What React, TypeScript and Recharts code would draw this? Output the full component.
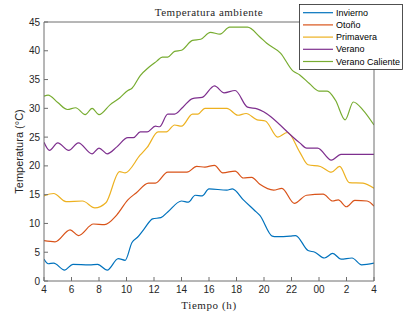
import React from 'react';
import { LineChart, Line, XAxis, YAxis } from 'recharts';

const hourTicks = [4, 6, 8, 10, 12, 14, 16, 18, 20, 22, 24, 26, 28];
const tempTicks = [0, 5, 10, 15, 20, 25, 30, 35, 40, 45];

const inviernoHours = [4, 4.3, 4.7, 5.5, 6.1, 7.3, 7.9, 8.6, 9.4, 9.9, 10.4, 10.8, 11.3, 11.9, 12.5, 13.0, 14.0, 14.5, 15.0, 15.5, 16.0, 17.3, 17.7, 18.5, 19.3, 19.7, 20.6, 20.9, 21.9, 22.3, 23.2, 23.7, 24.4, 25.0, 25.6, 26.4, 27.1, 28];
const inviernoTemps = [3.8, 3.0, 3.1, 1.9, 2.9, 2.8, 2.9, 1.9, 3.9, 3.6, 6.7, 7.6, 9.1, 10.8, 11.0, 12.0, 13.9, 13.7, 14.9, 14.8, 16.0, 15.8, 16.0, 14.1, 12.3, 11.4, 7.8, 7.7, 7.8, 7.9, 5.3, 5.0, 4.0, 4.8, 3.8, 4.0, 2.8, 3.1];

const otonoHours = [4, 4.8, 5.9, 6.5, 7.6, 8.4, 9.3, 10.1, 10.7, 11.6, 12.1, 13.0, 14.4, 15.1, 15.7, 16.4, 17.0, 17.9, 18.5, 19.1, 19.7, 20.7, 21.3, 22.2, 23.1, 24.3, 25.0, 25.4, 26.0, 26.6, 27.5, 28];
const otonoTemps = [7.0, 6.8, 8.9, 7.9, 9.9, 9.8, 11.5, 14.1, 15.3, 17.0, 17.0, 18.9, 18.9, 19.9, 19.8, 20.1, 18.8, 19.1, 17.9, 18.0, 16.8, 15.8, 16.1, 13.5, 14.9, 15.1, 13.9, 14.1, 12.9, 14.0, 13.9, 13.0];

const primaveraHours = [4, 4.7, 5.6, 6.8, 7.7, 8.5, 9.5, 9.9, 11.0, 11.5, 12.3, 12.9, 13.5, 14.0, 14.8, 15.2, 15.7, 17.3, 18.1, 18.7, 19.5, 20.1, 21.0, 21.7, 22.6, 23.2, 24.1, 24.9, 25.5, 26.2, 27.2, 28];
const primaveraTemps = [14.8, 15.2, 13.8, 13.9, 12.7, 13.6, 19.0, 18.8, 21.9, 23.2, 25.9, 25.9, 27.1, 26.9, 29.0, 29.0, 30.0, 30.0, 28.8, 29.1, 28.0, 27.8, 25.0, 25.8, 22.4, 20.2, 19.9, 18.9, 19.9, 17.1, 17.0, 16.1];

const veranoHours = [4, 4.4, 5.0, 5.8, 6.5, 7.5, 8.0, 8.6, 9.3, 10.1, 10.5, 11.0, 11.5, 12.1, 12.4, 13.0, 13.5, 14.1, 14.8, 15.5, 16.4, 17.1, 17.9, 18.8, 19.5, 22.6, 23.1, 23.9, 24.9, 25.6, 28];
const veranoTemps = [24.1, 22.7, 24.0, 22.7, 24.0, 22.1, 23.1, 22.1, 23.3, 24.9, 24.9, 25.9, 25.9, 26.9, 26.8, 29.0, 29.0, 30.2, 31.7, 31.9, 33.9, 32.7, 33.1, 30.2, 29.9, 24.0, 23.1, 23.1, 21.0, 22.0, 22.0];

const calienteHours = [4, 4.3, 5.0, 5.7, 6.3, 7.0, 7.5, 8.0, 8.8, 9.5, 10.1, 10.4, 11.0, 11.6, 12.2, 12.6, 13.0, 13.5, 14.0, 14.8, 15.4, 16.1, 16.8, 17.5, 18.8, 19.7, 20.2, 21.2, 22.1, 22.6, 23.3, 24.0, 24.6, 25.2, 25.9, 26.5, 27.2, 28];
const calienteTemps = [32.1, 32.3, 31.0, 29.8, 30.1, 28.9, 30.0, 28.9, 30.6, 31.8, 33.1, 33.5, 35.7, 37.1, 38.2, 38.9, 38.9, 39.9, 40.1, 41.8, 42.0, 43.2, 42.9, 44.1, 44.1, 42.4, 41.3, 39.6, 36.5, 35.8, 34.3, 33.0, 33.0, 31.4, 28.0, 31.1, 29.7, 27.1];

const series = [
  { name: 'Invierno', color: '#0072BD', hours: inviernoHours, temps: inviernoTemps },
  { name: 'Otoño', color: '#D95319', hours: otonoHours, temps: otonoTemps },
  { name: 'Primavera', color: '#EDB120', hours: primaveraHours, temps: primaveraTemps },
  { name: 'Verano', color: '#7E2F8E', hours: veranoHours, temps: veranoTemps },
  { name: 'Verano Caliente', color: '#77AC30', hours: calienteHours, temps: calienteTemps },
];

const toPoints = (hours: number[], temps: number[]) =>
  hours.map((h, i) => ({ hora: h, temp: temps[i] }));

const fmtHour = (v: number) => (v === 24 ? '00' : String(v > 24 ? v - 24 : v));

const axisColor = '#6e6e6e';
const textColor = '#262626';
const sans = '"Liberation Sans", Arial, sans-serif';
const serif = '"Liberation Serif", "Times New Roman", serif';

// legend box drawn on top of the chart, MATLAB style
const LegendBox = () => (
  <svg width={105} height={66} style={{ position: 'absolute', left: 299, top: 4 }}>
    <rect x={0.5} y={0.5} width={103} height={65} fill="#fff" stroke={textColor} strokeWidth={0.8} />
    {series.map((s, i) => (
      <g key={s.name}>
        <line x1={4} x2={34} y1={8.7 + i * 12.2} y2={8.7 + i * 12.2} stroke={s.color} strokeWidth={1.2} />
        <text x={37} y={8.7 + i * 12.2} dy="0.35em" fontSize={9} fontFamily={sans} fill="#000">
          {s.name}
        </text>
      </g>
    ))}
  </svg>
);

export default function App() {
  const tick = { fill: textColor, fontSize: 10, fontFamily: sans };
  return (
    <div style={{ position: 'absolute', left: 0, top: 0, width: 405, height: 315, background: '#fff' }}>
      <LineChart width={405} height={315} margin={{ top: 21, right: 30, left: 0, bottom: 0 }}>
        <XAxis
          type="number"
          dataKey="hora"
          domain={[4, 28]}
          ticks={hourTicks}
          tickFormatter={fmtHour}
          interval={0}
          height={34}
          tickSize={-4}
          tickMargin={9}
          tick={tick}
          stroke={axisColor}
          allowDataOverflow
          label={{ value: 'Tiempo (h)', position: 'insideBottom', offset: 6, fill: textColor, fontSize: 11, fontFamily: serif, letterSpacing: 0.6 }}
        />
        <XAxis
          xAxisId="top"
          orientation="top"
          type="number"
          domain={[4, 28]}
          ticks={hourTicks}
          interval={0}
          height={1}
          tickSize={-4}
          tickFormatter={() => ''}
          stroke={axisColor}
          label={{ value: 'Temperatura ambiente', position: 'top', offset: 5, fill: textColor, fontSize: 11, fontFamily: serif, letterSpacing: 0.5 }}
        />
        <YAxis
          type="number"
          domain={[0, 45]}
          ticks={tempTicks}
          interval={0}
          width={44}
          tickSize={-4}
          tickMargin={8}
          tick={tick}
          stroke={axisColor}
          label={{ value: 'Temperatura (°C)', angle: -90, position: 'center', dx: -3, fill: textColor, fontSize: 11, fontFamily: sans }}
        />
        <YAxis
          yAxisId="right"
          orientation="right"
          type="number"
          domain={[0, 45]}
          ticks={tempTicks}
          interval={0}
          width={1}
          tickSize={-4}
          tickFormatter={() => ''}
          stroke={axisColor}
        />
        {series.map((s) => (
          <Line
            key={s.name}
            name={s.name}
            data={toPoints(s.hours, s.temps)}
            dataKey="temp"
            type="monotone"
            stroke={s.color}
            strokeWidth={1.2}
            dot={false}
            activeDot={false}
            isAnimationActive={false}
          />
        ))}
      </LineChart>
      <LegendBox />
    </div>
  );
}
